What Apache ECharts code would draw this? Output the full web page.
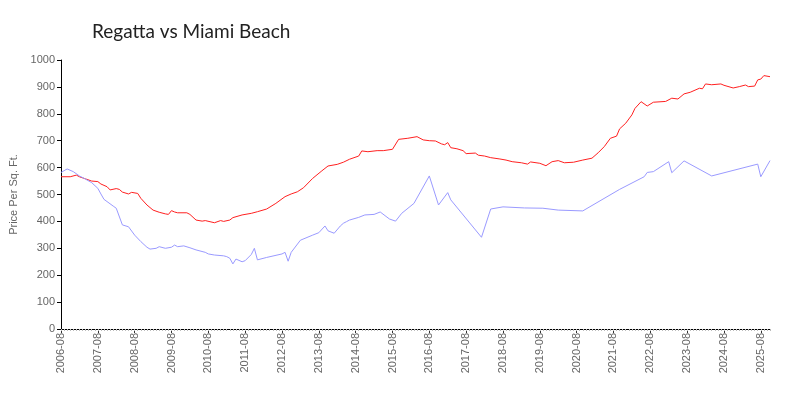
<!DOCTYPE html>
<html>
<head>
<meta charset="utf-8">
<script src="https://cdn.jsdelivr.net/npm/echarts@6/dist/echarts.min.js"></script>
<style>html,body{margin:0;padding:0;background:#fff}#c{width:800px;height:400px}</style>
</head>
<body>
<div id="c"></div>
<script>
// Monthly categories 2006-08 .. 2025-11
var startYear = 2006, startMonth = 8, monthCount = 232;
var categories = [];
for (var k = 0; k < monthCount; k++) {
  var mm = startMonth - 1 + k;
  var yy = startYear + Math.floor(mm / 12);
  var mo = (mm % 12) + 1;
  categories.push(yy + '-' + (mo < 10 ? '0' + mo : mo));
}

// Miami Beach (red)
var miamiDates = ['2006-08','2006-11','2007-01','2007-02','2007-04','2007-06','2007-08','2007-09','2007-11','2007-12',
  '2008-02','2008-03','2008-04','2008-06','2008-07','2008-09','2008-10','2008-12','2009-02','2009-04',
  '2009-06','2009-07','2009-08','2009-09','2009-10','2010-01','2010-02','2010-04','2010-06','2010-07',
  '2010-10','2010-12','2011-01','2011-03','2011-04','2011-07','2011-10','2011-12','2012-03','2012-06',
  '2012-09','2012-11','2013-01','2013-03','2013-06','2013-09','2013-11','2014-02','2014-04','2014-06',
  '2014-09','2014-10','2014-12','2015-03','2015-05','2015-08','2015-10','2016-01','2016-04','2016-06',
  '2016-08','2016-10','2016-12','2017-01','2017-02','2017-03','2017-05','2017-07','2017-08','2017-11',
  '2017-12','2018-02','2018-04','2018-07','2018-09','2018-11','2019-02','2019-04','2019-05','2019-08',
  '2019-10','2019-12','2020-02','2020-04','2020-07','2020-10','2021-01','2021-03','2021-05','2021-07',
  '2021-09','2021-10','2021-12','2022-02','2022-03','2022-05','2022-07','2022-09','2023-01','2023-03',
  '2023-05','2023-07','2023-09','2023-12','2024-01','2024-02','2024-04','2024-07','2024-08','2024-11',
  '2025-01','2025-03','2025-04','2025-06','2025-07','2025-08','2025-09','2025-11'];
var miamiValues = [566,566,572,566,558,550,548,539,529,517,
  522,519,509,502,508,504,486,461,442,434,
  428,426,440,435,432,432,426,405,401,403,
  395,403,400,405,414,424,430,436,446,467,
  492,502,510,525,560,588,606,612,620,631,
  643,662,659,663,663,668,705,709,715,703,
  700,699,688,685,693,674,670,663,652,654,
  646,643,637,632,628,622,618,613,621,616,
  607,622,626,618,620,628,635,655,678,709,
  717,744,765,796,820,845,829,843,846,858,
  855,874,880,895,893,911,908,911,906,896,
  901,907,901,903,926,929,942,938];

// Regatta (blue)
var regattaDates = ['2006-08','2006-10','2006-12','2007-02','2007-04','2007-06','2007-08','2007-09','2007-10','2008-01',
  '2008-02','2008-04','2008-06','2008-08','2008-10','2008-12','2009-01','2009-03','2009-04','2009-06',
  '2009-08','2009-09','2009-10','2009-12','2010-02','2010-04','2010-07','2010-08','2010-10','2011-01',
  '2011-02','2011-03','2011-04','2011-05','2011-07','2011-08','2011-10','2011-11','2011-12','2012-03',
  '2012-08','2012-09','2012-10','2012-11','2013-02','2013-06','2013-08','2013-10','2013-11','2014-01',
  '2014-03','2014-04','2014-05','2014-06','2014-09','2014-11','2015-02','2015-04','2015-07','2015-09',
  '2015-11','2016-03','2016-08','2016-11','2017-02','2017-03','2018-01','2018-04','2018-08','2019-03',
  '2019-09','2020-02','2020-10','2021-10','2022-06','2022-07','2022-09','2023-02','2023-03','2023-07',
  '2024-04','2025-07','2025-08','2025-11'];
var regattaValues = [582,595,585,569,557,544,523,502,482,457,
  449,387,380,349,325,304,297,300,306,300,
  304,312,306,309,302,294,285,279,275,272,
  269,263,242,260,250,254,277,300,257,266,
  279,285,252,285,330,349,358,383,365,356,
  383,393,399,405,415,424,426,435,409,401,
  430,467,569,461,507,480,341,446,454,450,
  449,442,439,519,566,582,585,622,581,625,
  569,613,566,626];

var yTicks = { min: 0, max: 1000, interval: 100 };

function toSeries(dates, values) {
  var arr = categories.map(function () { return null; });
  for (var i = 0; i < dates.length; i++) {
    var idx = categories.indexOf(dates[i]);
    if (idx >= 0) arr[idx] = values[i];
  }
  return arr;
}

var font = "'Liberation Sans Narrow', 'Liberation Sans', sans-serif";
var chart = echarts.init(document.getElementById('c'), null, { renderer: 'canvas' });
chart.setOption({
  animation: false,
  backgroundColor: '#fff',
  title: {
    text: 'Regatta vs Miami Beach',
    left: 87, top: 17,
    textStyle: { fontFamily: "Lato, 'Open Sans', sans-serif", fontWeight: 'normal', fontSize: 19, color: '#222' }
  },
  grid: { left: 61, right: 30, top: 60, bottom: 71, containLabel: false },
  xAxis: [{
    type: 'category', data: categories, boundaryGap: false,
    axisLine: { lineStyle: { color: '#000', width: 1 } },
    axisTick: { interval: 11, length: 4, lineStyle: { color: '#333' } },
    axisLabel: { interval: 11, rotate: 90, fontFamily: font, fontSize: 11, color: '#666', margin: 4 },
    splitLine: { show: false }
  }, {
    type: 'category', data: categories, boundaryGap: false, position: 'bottom',
    axisLine: { show: false },
    axisTick: { interval: 0, length: 2, lineStyle: { color: '#bbb' } },
    axisLabel: { show: false },
    splitLine: { show: false }
  }],
  yAxis: {
    type: 'value', min: yTicks.min, max: yTicks.max, interval: yTicks.interval,
    name: 'Price Per Sq. Ft.', nameLocation: 'middle', nameGap: 33, nameRotate: 90,
    nameTextStyle: { fontFamily: font, fontSize: 11, color: '#666' },
    axisLine: { show: true, lineStyle: { color: '#000', width: 1 } },
    axisTick: { show: true, length: 4, lineStyle: { color: '#000' } },
    axisLabel: { fontFamily: font, fontSize: 11, color: '#666', margin: 6,
      formatter: function (v) { return String(v); } },
    splitLine: { show: false }
  },
  series: [{
    name: 'Miami Beach', type: 'line', xAxisIndex: 0,
    data: toSeries(miamiDates, miamiValues), connectNulls: true,
    showSymbol: false, symbol: 'none',
    lineStyle: { color: '#ff2020', width: 1 }, itemStyle: { color: '#ff2020' }
  }, {
    name: 'Regatta', type: 'line', xAxisIndex: 0,
    data: toSeries(regattaDates, regattaValues), connectNulls: true,
    showSymbol: false, symbol: 'none',
    lineStyle: { color: '#9a9aff', width: 1 }, itemStyle: { color: '#9a9aff' }
  }]
});
</script>
</body>
</html>
